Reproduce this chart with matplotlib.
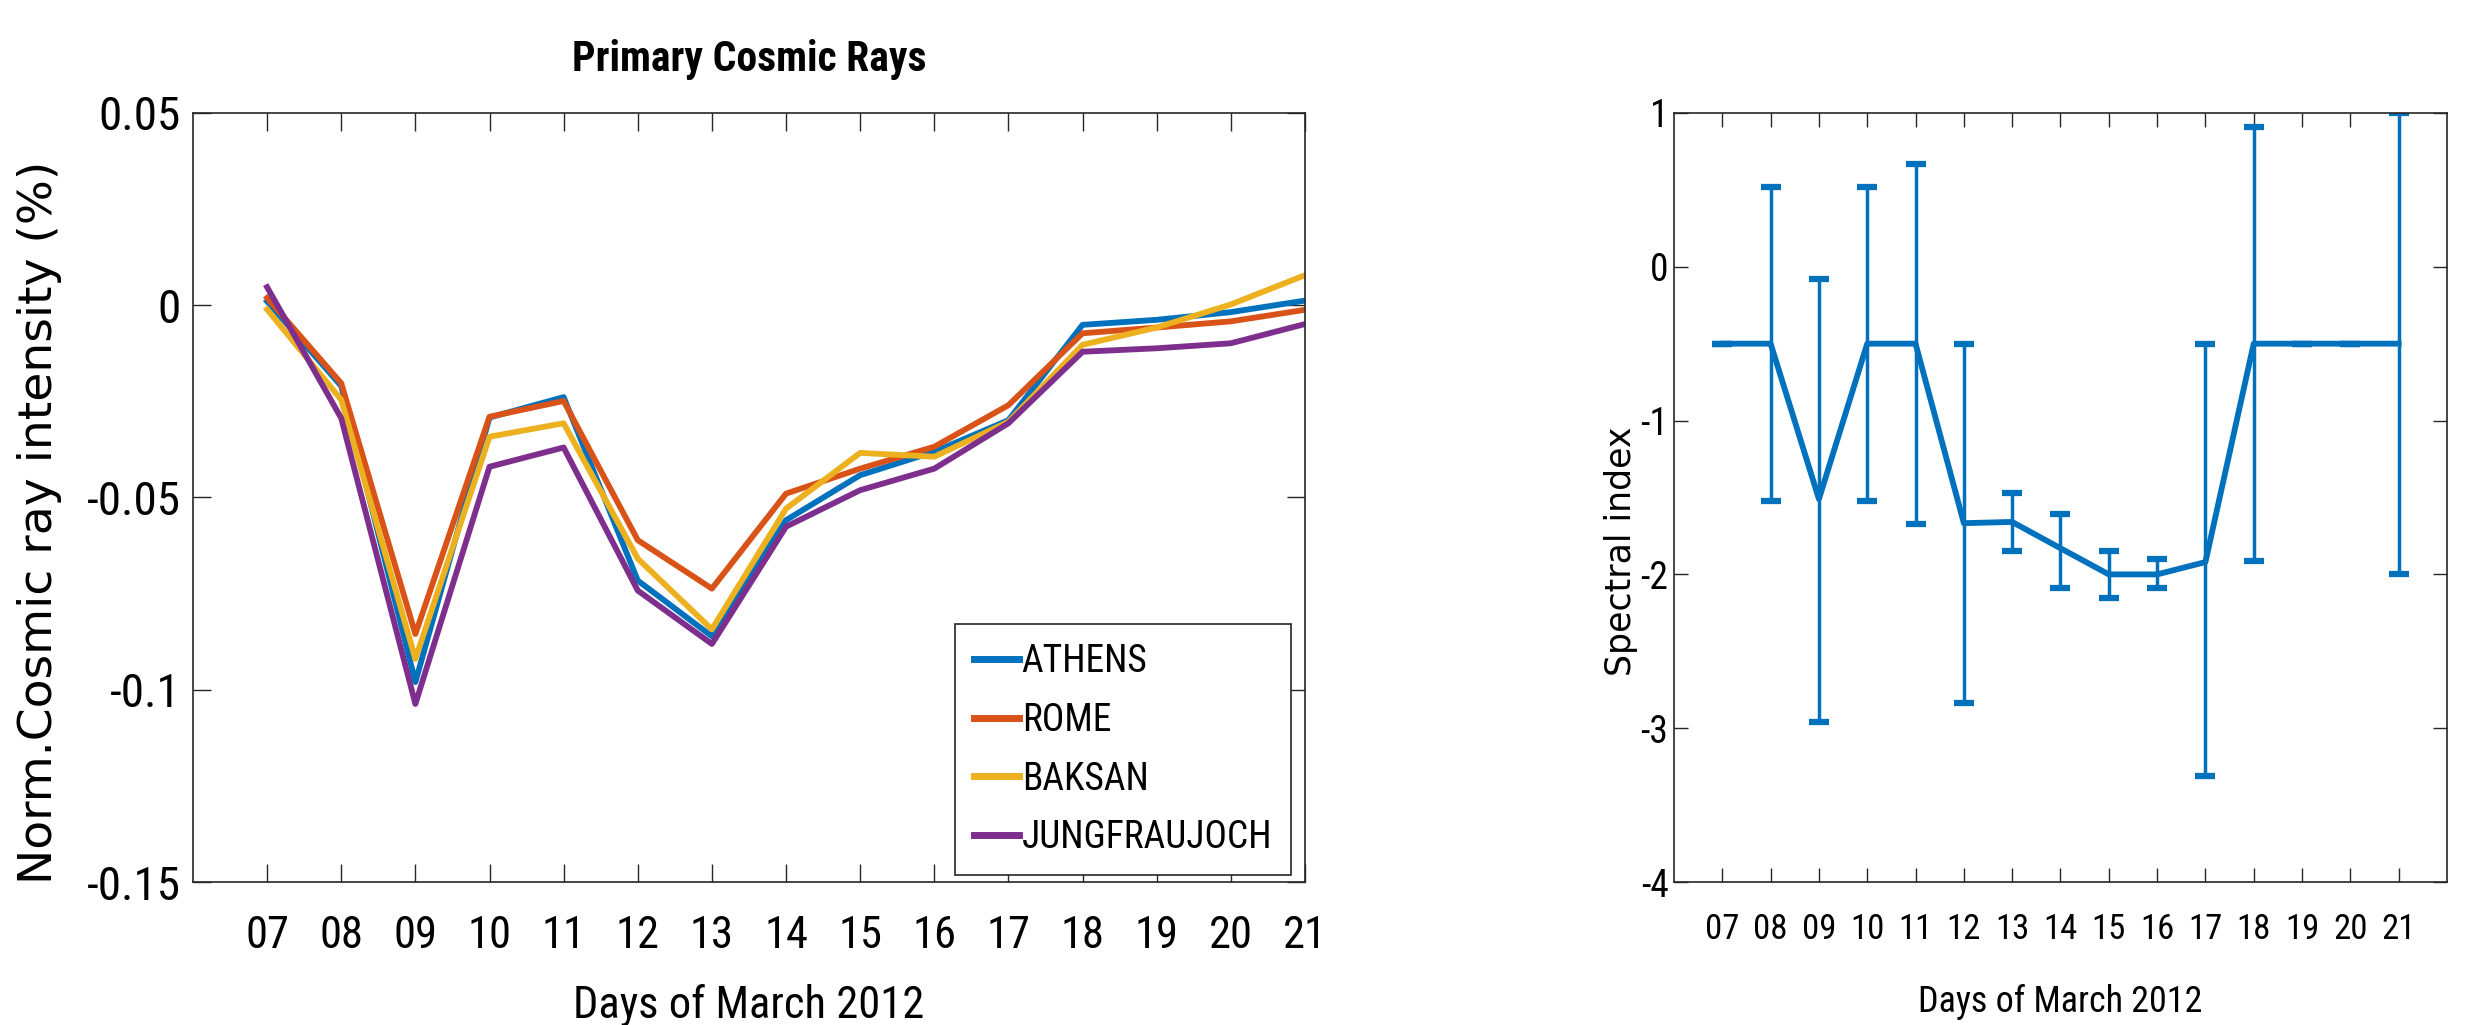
import numpy as np
import matplotlib
matplotlib.use("Agg")
import matplotlib.pyplot as plt
from matplotlib import font_manager

# Days of March 2012
days = np.arange(7, 22)
day_labels = ["07", "08", "09", "10", "11", "12", "13", "14",
              "15", "16", "17", "18", "19", "20", "21"]

# Normalised cosmic ray intensity (%) per station
athens = [0.001, -0.021, -0.098, -0.0292, -0.0239, -0.0716, -0.0861, -0.0559,
          -0.0442, -0.0381, -0.0299, -0.0051, -0.0038, -0.0018, 0.0012]
rome = [0.0019, -0.0203, -0.0855, -0.029, -0.0249, -0.0611, -0.0737, -0.049,
        -0.0425, -0.0368, -0.026, -0.0073, -0.0058, -0.0042, -0.0012]
baksan = [-0.0011, -0.0246, -0.092, -0.0342, -0.0307, -0.0659, -0.0843, -0.0529,
          -0.0384, -0.0394, -0.0303, -0.0103, -0.0058, 0.0002, 0.0078]
jungfraujoch = [0.0047, -0.0294, -0.1037, -0.042, -0.037, -0.0742, -0.0881, -0.0576,
                -0.0481, -0.0425, -0.0307, -0.0121, -0.0112, -0.0099, -0.0049]
stations = ["ATHENS", "ROME", "BAKSAN", "JUNGFRAUJOCH"]

left_yticks = [0.05, 0, -0.05, -0.1, -0.15]
left_yticklabels = ["0.05", "0", "-0.05", "-0.1", "-0.15"]

# Spectral index with asymmetric error limits
spec_index = [-0.5, -0.5, -1.51, -0.5, -0.5, -1.667, -1.659, -1.83,
              -2.0, -2.0, -1.92, -0.5, -0.5, -0.5, -0.5]
spec_upper = [-0.5, 0.52, -0.08, 0.52, 0.667, -0.5, -1.468, -1.607,
              -1.848, -1.898, -0.5, 0.908, -0.5, -0.5, 1.0]
spec_lower = [-0.5, -1.52, -2.96, -1.52, -1.672, -2.835, -1.848, -2.09,
              -2.152, -2.09, -3.31, -1.91, -0.5, -0.5, -2.0]

right_yticks = [1, 0, -1, -2, -3, -4]
right_yticklabels = ["1", "0", "-1", "-2", "-3", "-4"]

# MATLAB default colour order
colors = ["#0072BD", "#D95319", "#EDB120", "#7E2F8E"]
axis_color = "#262626"


def pick_narrow_font():
    # the figure text is a tall, condensed sans; use one if it is installed
    fonts = font_manager.fontManager.ttflist
    names = {f.name for f in fonts}
    for name in ["Liberation Sans Narrow", "Roboto Condensed", "Open Sans Condensed",
                 "DejaVu Sans Condensed", "Noto Sans Condensed"]:
        if name in names:
            return name, "normal", True
    for f in fonts:
        if "Narrow" in f.name or "Condensed" in f.name:
            return f.name, "normal", True
    for f in fonts:
        if f.stretch in ("condensed", "semi-condensed", "extra-condensed") \
                and f.name in ("DejaVu Sans", "Noto Sans", "Open Sans", "Roboto", "Lato"):
            return f.name, f.stretch, True
    return "Liberation Sans", "normal", False


narrow_name, narrow_stretch, is_narrow = pick_narrow_font()
narrow = [narrow_name, "Liberation Sans", "DejaVu Sans"]
k = 1.0 if is_narrow else 0.85  # shrink sizes when only a normal-width face exists
tf = dict(family=narrow, stretch=narrow_stretch)

fig = plt.figure(figsize=(24.87, 10.25), dpi=100)
ax1 = fig.add_axes([0.0776, 0.1395, 0.4471, 0.7503])
ax2 = fig.add_axes([0.6731, 0.1395, 0.3108, 0.7503])

# --- left panel: primary cosmic rays
for vals, name, c in zip([athens, rome, baksan, jungfraujoch], stations, colors):
    ax1.plot(days, vals, color=c, lw=4.2, label=name)
ax1.set_xlim(6, 21)
ax1.set_ylim(-0.15, 0.05)
ax1.set_xticks(days)
ax1.set_xticklabels(day_labels, fontsize=32 * k, **tf)
ax1.set_yticks(left_yticks)
ax1.set_yticklabels(left_yticklabels, fontsize=34 * k, **tf)
ax1.tick_params(axis="x", direction="in", length=13, width=1, colors=axis_color,
                top=True, pad=24)
ax1.tick_params(axis="y", direction="in", length=13, width=1, colors=axis_color,
                right=True, pad=9)
ax1.set_xlabel("Days of March 2012", fontsize=32 * k, labelpad=19, **tf)
ax1.set_ylabel("Norm.Cosmic ray intensity (%)", family="DejaVu Sans", fontsize=34)
ax1.yaxis.set_label_coords(-0.118, 0.467)
ax1.set_title("Primary Cosmic Rays", fontsize=30 * k, fontweight="bold", pad=30, **tf)
leg = ax1.legend(loc="lower right", bbox_to_anchor=(0.9874, 0.009), borderaxespad=0,
                 prop={"family": narrow, "stretch": narrow_stretch, "size": 27 * k},
                 handlelength=1.2, handletextpad=0.08, labelspacing=0.58,
                 borderpad=0.5, fancybox=False, framealpha=1)
leg.get_frame().set_edgecolor(axis_color)
leg.get_frame().set_linewidth(1.2)
for line in leg.get_lines():
    line.set_linewidth(5)

# --- right panel: spectral index
spec = np.array(spec_index)
yerr = np.vstack([spec - np.array(spec_lower), np.array(spec_upper) - spec])
ax2.errorbar(days, spec, yerr=yerr, color=colors[0], lw=4.2, elinewidth=2.5,
             capsize=7, capthick=4.5)
ax2.set_xlim(6, 22)
ax2.set_ylim(-4, 1)
ax2.set_xticks(days)
ax2.set_xticklabels(day_labels, fontsize=25 * k, **tf)
ax2.set_yticks(right_yticks)
ax2.set_yticklabels(right_yticklabels, fontsize=27 * k, **tf)
ax2.tick_params(axis="x", direction="in", length=10, width=1, colors=axis_color,
                top=True, pad=22)
ax2.tick_params(axis="y", direction="in", length=10, width=1, colors=axis_color,
                right=True, pad=4)
ax2.set_xlabel("Days of March 2012", fontsize=26 * k, labelpad=28, **tf)
ax2.set_ylabel("Spectral index", family="DejaVu Sans", fontsize=25)
ax2.yaxis.set_label_coords(-0.046, 0.43)

for ax in (ax1, ax2):
    for s in ax.spines.values():
        s.set_color(axis_color)
        s.set_linewidth(1.2)
    for lab in ax.get_xticklabels() + ax.get_yticklabels():
        lab.set_color("black")

fig.savefig("out.png", dpi=100)
